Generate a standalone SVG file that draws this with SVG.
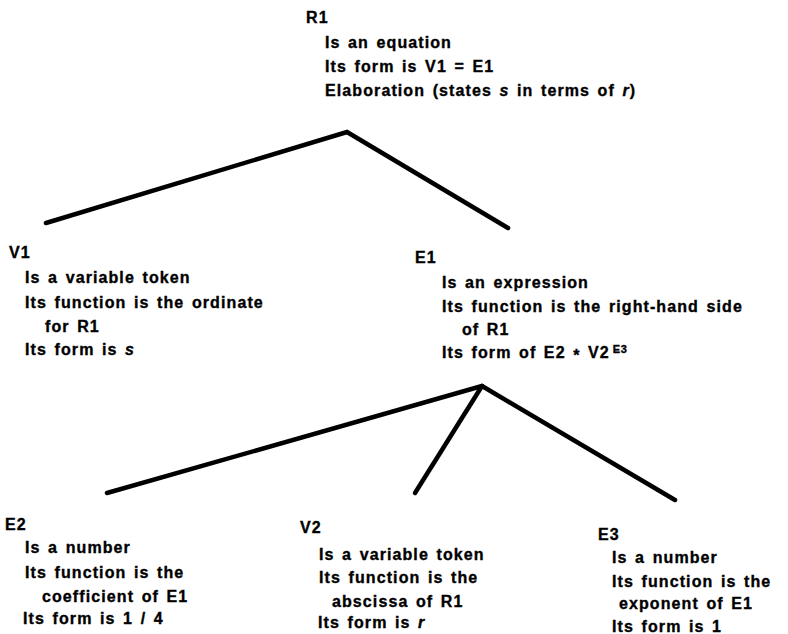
<svg xmlns="http://www.w3.org/2000/svg" width="788" height="634" viewBox="0 0 788 634">
<style>
text{font-family:"Liberation Sans",Arial,sans-serif;font-weight:bold;font-size:16px;fill:#000;stroke:#000;stroke-width:0.35px;letter-spacing:1.1px;word-spacing:2px}
.sup{font-size:11px;letter-spacing:0.5px}
.edge{stroke:#000;stroke-width:4.5;fill:none;stroke-linecap:round;stroke-linejoin:miter}
</style>
<rect width="788" height="634" fill="#fff"/>
<g id="connectors">
<polyline class="edge" points="46,223 347,132 508,228"/>
<line class="edge" x1="482" y1="386" x2="107" y2="493"/>
<line class="edge" x1="482" y1="386" x2="415" y2="493"/>
<line class="edge" x1="482" y1="386" x2="675" y2="500"/>
</g>
<g id="R1">
<text x="306" y="23">R1</text>
<text x="325" y="48">Is an equation</text>
<text x="325" y="72">Its form is V1 = E1</text>
<text x="325" y="96">Elaboration (states <tspan font-style="italic">s</tspan> in terms of <tspan font-style="italic">r</tspan>)</text>
</g>
<g id="V1">
<text x="9" y="258">V1</text>
<text x="25" y="283">Is a variable token</text>
<text x="25" y="308">Its function is the ordinate</text>
<text x="45" y="332">for R1</text>
<text x="25" y="355">Its form is <tspan font-style="italic">s</tspan></text>
</g>
<g id="E1">
<text x="415" y="263">E1</text>
<text x="442" y="288">Is an expression</text>
<text x="442" y="312">Its function is the right-hand side</text>
<text x="462" y="335">of R1</text>
<text x="442" y="358">Its form of E2 <tspan dy="3">*</tspan><tspan dy="-3"> V2</tspan><tspan class="sup" dy="-5" dx="3">E3</tspan></text>
</g>
<g id="E2">
<text x="5" y="530">E2</text>
<text x="25" y="553">Is a number</text>
<text x="25" y="578">Its function is the</text>
<text x="42" y="602">coefficient of E1</text>
<text x="23" y="624">Its form is 1 / 4</text>
</g>
<g id="V2">
<text x="300" y="533">V2</text>
<text x="319" y="560">Is a variable token</text>
<text x="319" y="583">Its function is the</text>
<text x="332" y="607">abscissa of R1</text>
<text x="318" y="628">Its form is <tspan font-style="italic">r</tspan></text>
</g>
<g id="E3">
<text x="598" y="540">E3</text>
<text x="612" y="563">Is a number</text>
<text x="612" y="587">Its function is the</text>
<text x="619" y="609">exponent of E1</text>
<text x="612" y="632">Its form is 1</text>
</g>
</svg>
